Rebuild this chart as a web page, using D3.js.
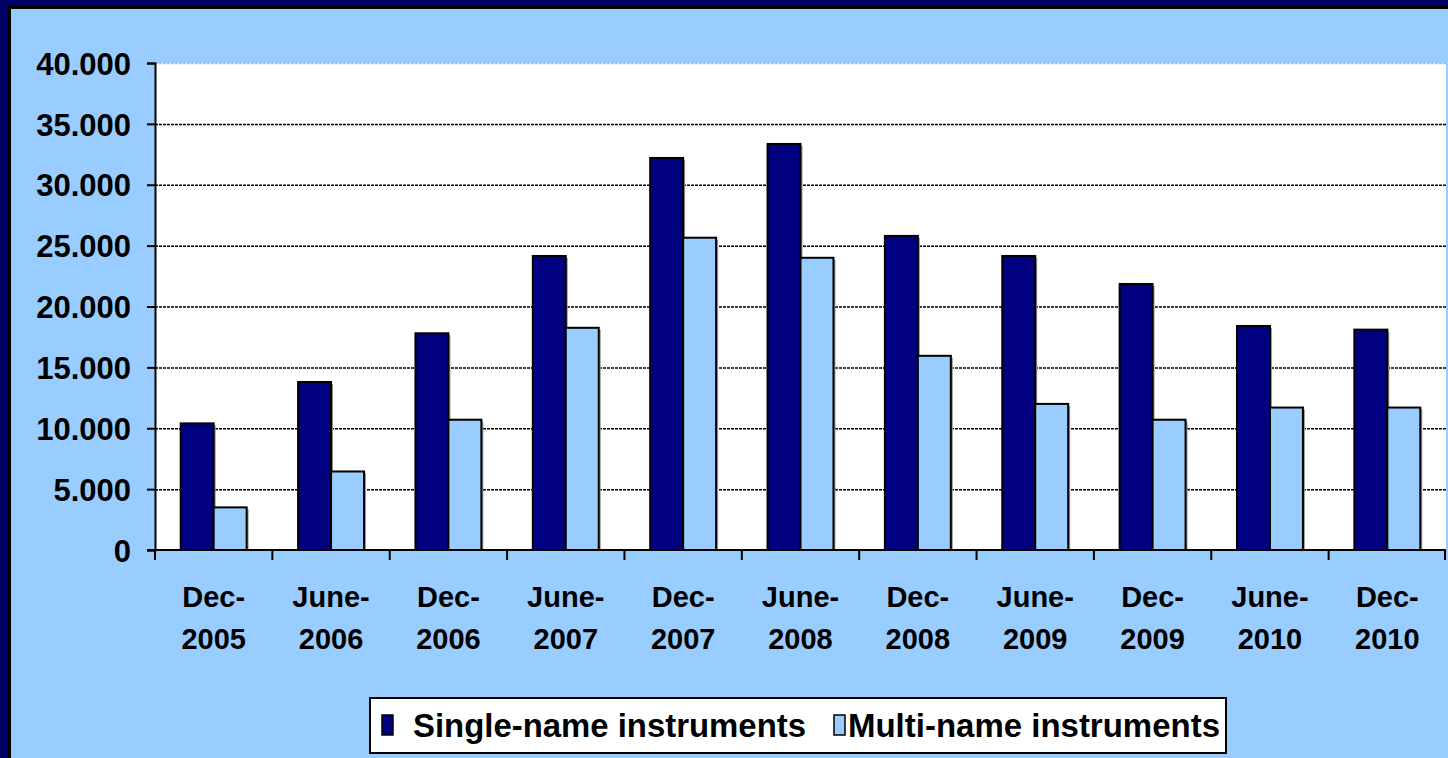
<!DOCTYPE html>
<html>
<head>
<meta charset="utf-8">
<script src="https://cdn.jsdelivr.net/npm/d3@7"></script>
<style>
  body { margin: 0; padding: 0; overflow: hidden; }
  svg { display: block; font-family: "Liberation Sans", Arial, sans-serif; font-weight: bold; }
</style>
</head>
<body>
<div id="chart"></div>
<script>
// data
var periods = ["Dec-2005", "June-2006", "Dec-2006", "June-2007", "Dec-2007", "June-2008",
	"Dec-2008", "June-2009", "Dec-2009", "June-2010", "Dec-2010"];
var singleName = [10400, 13800, 17800, 24150, 32200, 33350, 25800, 24150, 21850, 18400, 18100];
var multiName = [3500, 6450, 10700, 18250, 25650, 24000, 15950, 12000, 10700, 11700, 11700];
var seriesNames = ["Single-name instruments", "Multi-name instruments"];
var seriesColors = ["#000080", "#99ccff"];
var yTicks = [0, 5000, 10000, 15000, 20000, 25000, 30000, 35000, 40000];

var width = 1448, height = 758,
	margin = {top: 63, right: 2, bottom: 208, left: 155};

var svg = d3.select("#chart")
	.append("svg")
	.attr("width", width)
	.attr("height", height);

// background and frame
svg.append("rect").attr("width", width).attr("height", height).attr("fill", "#000066");
svg.append("rect").attr("x", 8).attr("y", 6).attr("width", width).attr("height", height).attr("fill", "#000000");
svg.append("rect").attr("x", 11).attr("y", 9).attr("width", width).attr("height", height).attr("fill", "#99ccff");

var x0 = d3.scaleBand()
	.domain(periods)
	.range([margin.left, width - margin.right]);

var x1 = d3.scaleBand()
	.domain(seriesNames)
	.range([0, x0.bandwidth()])
	.paddingOuter(0.78);

var y = d3.scaleLinear()
	.domain([0, 40000])
	.range([height - margin.bottom, margin.top]);

// plot area
svg.append("rect")
	.attr("x", margin.left)
	.attr("y", margin.top)
	.attr("width", width - margin.right - margin.left)
	.attr("height", y(0) - margin.top)
	.attr("fill", "#ffffff");

// gridlines
svg.append("g")
	.selectAll("line")
	.data(yTicks.filter(function(d) { return d > 0; }))
	.join("line")
	.attr("x1", margin.left)
	.attr("x2", width - margin.right)
	.attr("y1", function(d) { return y(d) + 0.5; })
	.attr("y2", function(d) { return y(d) + 0.5; })
	.attr("stroke", function(d) { return d === 40000 ? "#bbbbbb" : "#000000"; })
	.attr("stroke-width", 1.5)
	.attr("stroke-dasharray", "3,1");

// bars
var rows = periods.map(function(p, i) {
	return {period: p, values: [singleName[i], multiName[i]]};
});

var groups = svg.append("g")
	.selectAll("g")
	.data(rows)
	.join("g")
	.attr("transform", function(d) { return "translate(" + x0(d.period) + ",0)"; });

// little grey shadow to the right of each bar
groups.selectAll("rect.shadow")
	.data(function(d) { return d.values.map(function(v, j) { return {key: seriesNames[j], value: v, j: j}; }); })
	.join("rect")
	.attr("class", "shadow")
	.attr("x", function(d) { return x1(d.key) + 2; })
	.attr("y", function(d) { return y(d.value) + 2; })
	.attr("width", x1.bandwidth())
	.attr("height", function(d) { return y(0) - y(d.value) - 2; })
	.attr("fill", "#999999");

groups.selectAll("rect.bar")
	.data(function(d) { return d.values.map(function(v, j) { return {key: seriesNames[j], value: v, j: j}; }); })
	.join("rect")
	.attr("class", "bar")
	.attr("x", function(d) { return x1(d.key); })
	.attr("y", function(d) { return y(d.value); })
	.attr("width", x1.bandwidth())
	.attr("height", function(d) { return y(0) - y(d.value); })
	.attr("fill", function(d) { return seriesColors[d.j]; })
	.attr("stroke", "#000000")
	.attr("stroke-width", 2);

// y axis
var yAxis = d3.axisLeft(y)
	.tickValues(yTicks)
	.tickSize(8)
	.tickPadding(16)
	.tickFormat(function(d) { return d === 0 ? "0" : d3.format(",")(d).replace(",", "."); });

svg.append("g")
	.attr("transform", "translate(" + margin.left + ",0)")
	.call(yAxis)
	.call(function(g) {
		g.selectAll("path").attr("stroke", "#000").attr("stroke-width", 2);
		g.selectAll("line").attr("stroke", "#000").attr("stroke-width", 2);
		g.selectAll("text")
			.attr("fill", "#000")
			.attr("dy", "0.36em")
			.style("font-size", "31px")
			.style("font-weight", "bold")
			.style("font-family", "'Liberation Sans', Arial, sans-serif");
	});

// x axis - ticks on the band edges
var xAxisG = svg.append("g")
	.attr("transform", "translate(0," + y(0) + ")");

xAxisG.append("line")
	.attr("x1", margin.left - 8)
	.attr("x2", width - margin.right)
	.attr("stroke", "#000")
	.attr("stroke-width", 2);

xAxisG.selectAll("line.tick")
	.data(periods.concat(["end"]))
	.join("line")
	.attr("class", "tick")
	.attr("x1", function(d) { return d === "end" ? x0.range()[1] - 1 : x0(d); })
	.attr("x2", function(d) { return d === "end" ? x0.range()[1] - 1 : x0(d); })
	.attr("y1", 0)
	.attr("y2", 10)
	.attr("stroke", "#000")
	.attr("stroke-width", 2);

var labels = xAxisG.selectAll("text")
	.data(periods)
	.join("text")
	.attr("x", function(d) { return x0(d) + x0.bandwidth() / 2; })
	.attr("text-anchor", "middle")
	.attr("fill", "#000")
	.style("font-size", "29px");

labels.append("tspan")
	.attr("x", function(d) { return x0(d) + x0.bandwidth() / 2; })
	.attr("y", 57)
	.text(function(d) { return d.split("-")[0] + "-"; });
labels.append("tspan")
	.attr("x", function(d) { return x0(d) + x0.bandwidth() / 2; })
	.attr("y", 99)
	.text(function(d) { return d.split("-")[1]; });

// legend
var legend = svg.append("g");
legend.append("rect")
	.attr("x", 370)
	.attr("y", 698)
	.attr("width", 856)
	.attr("height", 55)
	.attr("fill", "#fff")
	.attr("stroke", "#000")
	.attr("stroke-width", 2);

var legendItems = [
	{name: seriesNames[0], color: seriesColors[0], sx: 382, tx: 413, tw: 393},
	{name: seriesNames[1], color: seriesColors[1], sx: 834, tx: 848, tw: 372}
];

legend.selectAll("rect.sw")
	.data(legendItems)
	.join("rect")
	.attr("class", "sw")
	.attr("x", function(d) { return d.sx; })
	.attr("y", 715)
	.attr("width", 11)
	.attr("height", 20)
	.attr("fill", function(d) { return d.color; })
	.attr("stroke", "#000")
	.attr("stroke-width", 1.5);

legend.selectAll("text")
	.data(legendItems)
	.join("text")
	.attr("x", function(d) { return d.tx; })
	.attr("y", 737)
	.attr("textLength", function(d) { return d.tw; })
	.attr("lengthAdjust", "spacingAndGlyphs")
	.attr("fill", "#000")
	.style("font-size", "33px")
	.text(function(d) { return d.name; });
</script>
</body>
</html>
